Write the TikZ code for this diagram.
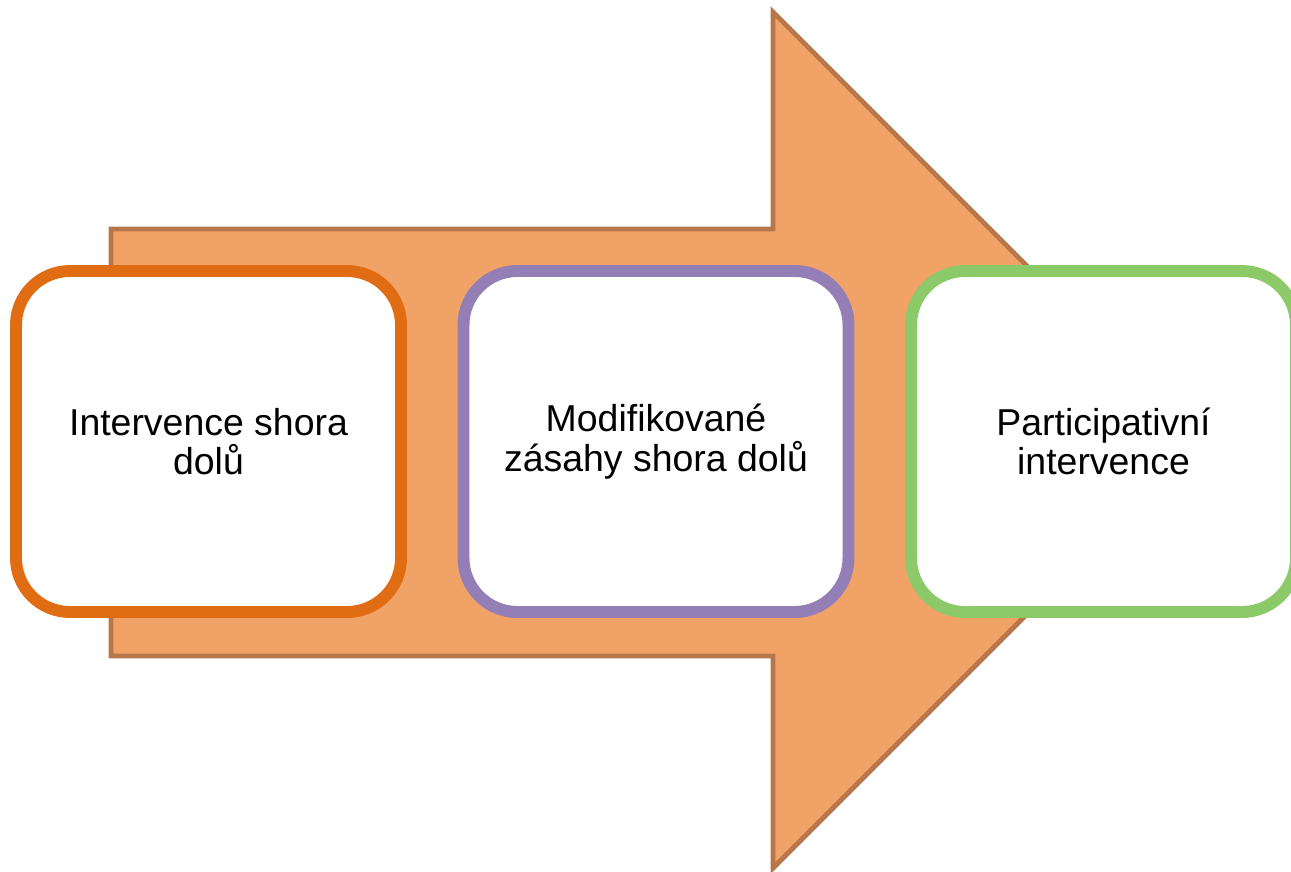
\documentclass[tikz,border=0pt]{standalone}
\usepackage{fontspec}
\setmainfont{Liberation Sans}
\definecolor{arrowfill}{HTML}{F1A267}
\definecolor{arrowline}{HTML}{B7774A}
\definecolor{boxorange}{HTML}{E06C14}
\definecolor{boxpurple}{HTML}{937EB5}
\definecolor{boxgreen}{HTML}{8CC968}
\begin{document}
\begin{tikzpicture}[
    x=0.2mm, y=-0.2mm,
    bigarrow/.style={fill=arrowfill,draw=arrowline,line width=2.8pt,line join=miter},
    stage/.style={rectangle,rounded corners=10.8mm,fill=white,line width=6.8pt,
        minimum width=77mm,minimum height=68.2mm,align=center,
        font=\fontsize{21.3pt}{22.4pt}\selectfont}
]

\useasboundingbox (0,0) rectangle (1291,871);

\draw[bigarrow] (111,229) -- (773,229) -- (773,12) -- (1201,440)
    -- (773,868) -- (773,656) -- (111,656) -- cycle;

\node[stage,draw=boxorange] (B1) at (208.5,441.5) {Intervence shora\\dolů};
\node[stage,draw=boxpurple] (B2) at (656,441.5) {Modifikované\\zásahy shora dolů};
\node[stage,draw=boxgreen] (B3) at (1103.5,441.5) {Participativní\\intervence};

\end{tikzpicture}
\end{document}
